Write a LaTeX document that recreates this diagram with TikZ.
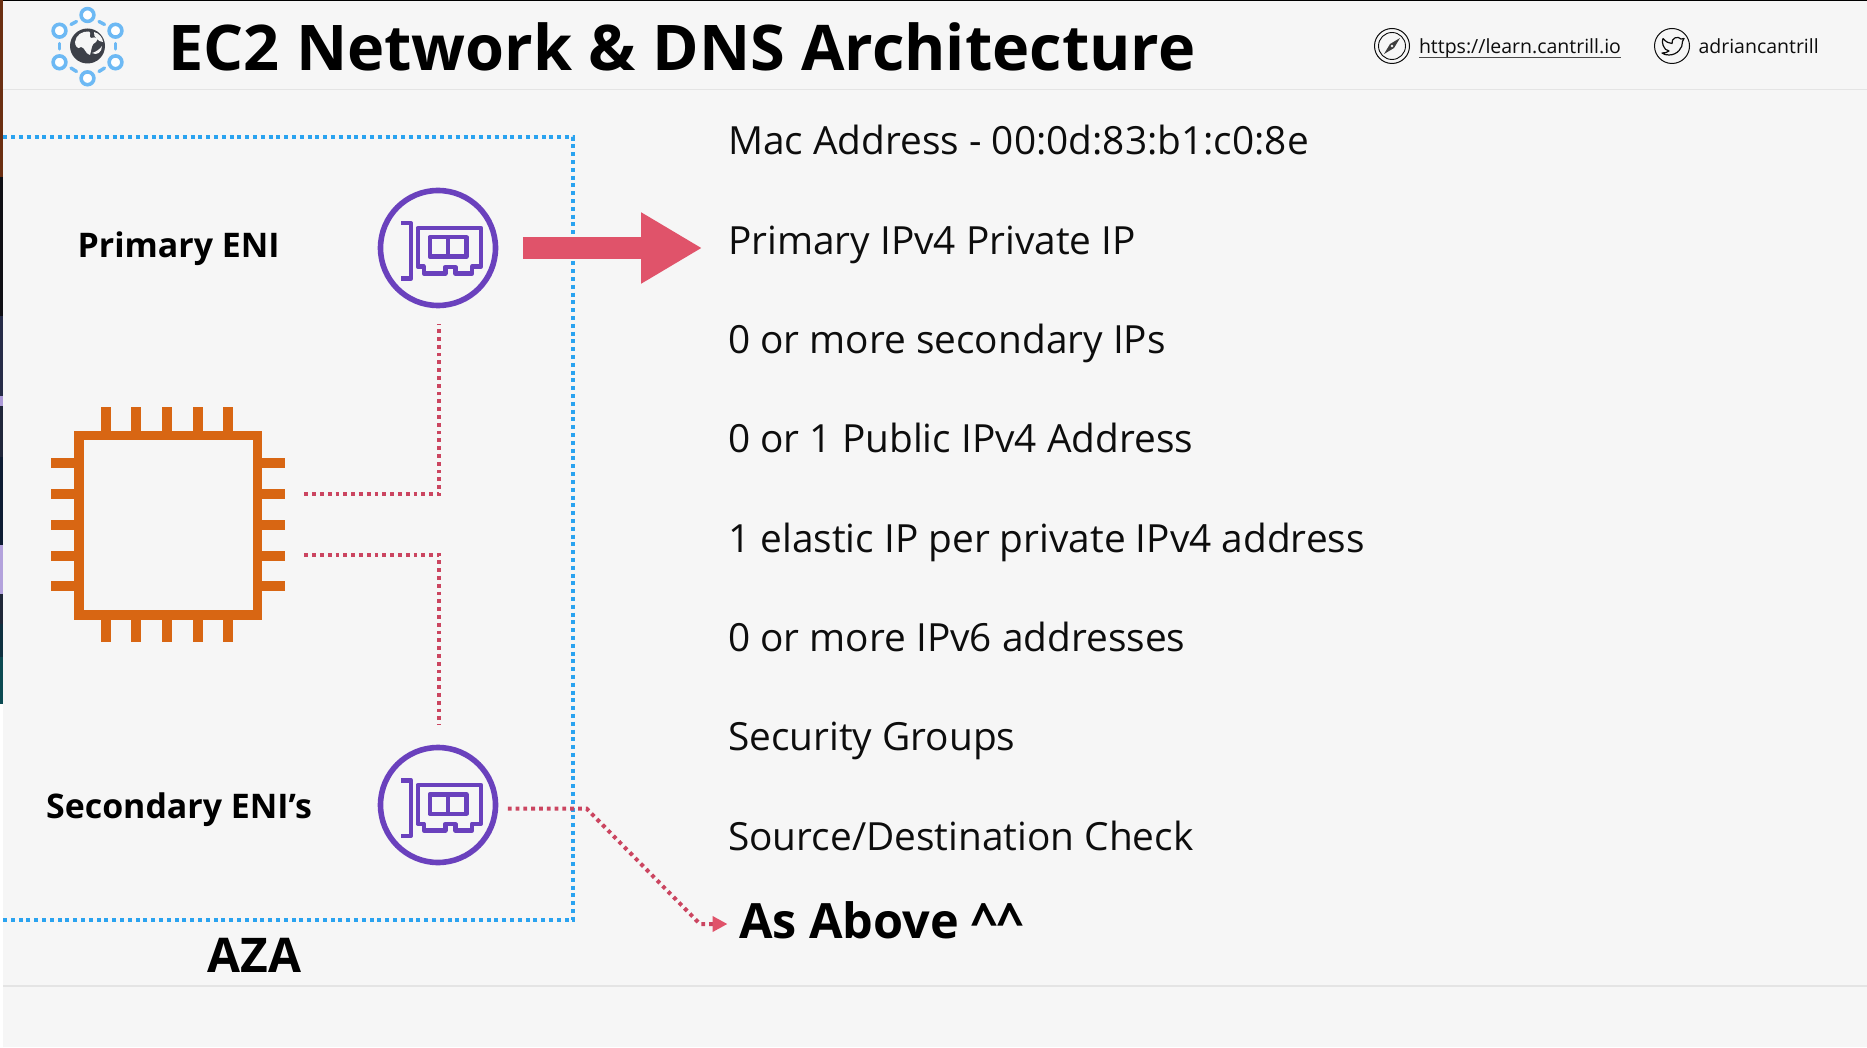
\documentclass[tikz,border=0pt]{standalone}
\usepackage{fontspec}
\setmainfont{Open Sans}
\usetikzlibrary{arrows.meta}
\definecolor{bgc}{HTML}{F6F6F6}
\definecolor{azablue}{HTML}{2AA3F0}
\definecolor{redlink}{HTML}{CB4560}
\definecolor{redarrow}{HTML}{E0536A}
\definecolor{nicpurple}{HTML}{6A41BD}
\definecolor{chiporange}{HTML}{D86613}
\definecolor{logoblue}{HTML}{6DB9F4}
\definecolor{globedark}{HTML}{3D4048}
\definecolor{rulegray}{HTML}{E4E4E4}
\definecolor{inkc}{HTML}{0D0D0D}
\definecolor{sa}{HTML}{6B2F12}
\definecolor{sb}{HTML}{0F0F14}
\definecolor{sc}{HTML}{262C48}
\definecolor{sd}{HTML}{AC9AD8}
\definecolor{se}{HTML}{20263A}
\definecolor{sf}{HTML}{0E1C33}
\definecolor{sg}{HTML}{B3A2DC}
\definecolor{sh}{HTML}{1F2738}
\definecolor{si}{HTML}{0E3040}
\definecolor{sj}{HTML}{0C4A52}
\newcommand{\fsz}[1]{\fontsize{#1}{#1}\selectfont}
\tikzset{
  x=1pt,y=-1pt,
  lbl/.style={inner sep=0pt,outer sep=0pt,text=inkc},
  rowtext/.style={lbl,anchor=base west,font=\fsz{38.8}},
  boldlabel/.style={lbl,anchor=base,text=black,font=\fsz{33.9}\bfseries},
  weblabel/.style={lbl,anchor=base west,font=\fsz{19.5}},
  nicnode/.style={circle,draw=nicpurple,line width=5.6pt,minimum size=115pt,inner sep=0pt},
  chipnode/.style={rectangle,draw=chiporange,line width=9.7pt,minimum width=178.7pt,minimum height=179.2pt,inner sep=0pt},
  pin/.style={draw=chiporange,line width=9.7pt},
  azabox/.style={draw=azablue,line width=3.8pt,dash pattern=on 4pt off 3.8pt},
  linkdot/.style={draw=redlink,line width=4pt,dash pattern=on 3.8pt off 4pt},
  nicline/.style={draw=nicpurple,line width=4.4pt,line join=round},
  logoring/.style={draw=logoblue,line width=3.6pt,fill=white},
  logodash/.style={draw=logoblue,line width=3.4pt,line cap=round},
  nicicon/.pic={
    \draw[nicline] (-37,-24.7)--(-27,-24.7)--(-27,30.7)--(-37,30.7);
    \draw[nicline] (-20.3,-20)--(43,-20)--(43,18.7)--(34,18.7)--(34,25.5)--(17.3,25.5)--(17.3,19)--(7.3,19)--(7.3,25.5)--(-14.3,25.5)--(-14.3,18.7)--(-20.3,18.7)--cycle;
    \draw[nicline] (-8.3,-10.7) rectangle (28.3,8.7);
    \draw[nicline] (9.7,-10.7)--(9.7,8.7);
  }
}
\begin{document}
\begin{tikzpicture}
\useasboundingbox (0,0) rectangle (1867,1048);
\fill[white] (0,0) rectangle (1867,1048);
\fill[bgc] (3.3,0) rectangle (1867,1047);
% top edge and left strip
\fill[black] (0,0) rectangle (1867,1.2);
\fill[sa] (0,0) rectangle (3.3,177);
\fill[sb] (0,177) rectangle (3.3,316);
\fill[sc] (0,316) rectangle (3.3,396);
\fill[sd] (0,396) rectangle (3.3,406);
\fill[se] (0,406) rectangle (3.3,457);
\fill[sf] (0,457) rectangle (3.3,545);
\fill[sg] (0,545) rectangle (3.3,594);
\fill[sh] (0,594) rectangle (3.3,624);
\fill[si] (0,624) rectangle (3.3,657);
\fill[sj] (0,657) rectangle (3.3,704);
% rules
\draw[rulegray,line width=1.4pt] (3.3,89.5)--(1867,89.5);
\draw[rulegray,line width=1.4pt] (3.3,986)--(1867,986);
% logo
\foreach \x/\y in {87.5/15,59.5/30.7,115.5/30.7,59.5/62.3,115.5/62.3,87.5/78.3}
  \draw[logoring] (\x,\y) circle (6.4);
\foreach \a/\b/\c/\d in {71/24.5/76.5/21.5,99/21.5/104.5/24.5,59.5/43.5/59.5/49,115.5/43.5/115.5/49,71/68/76.5/71.5,99/71.5/104.5/68}
  \draw[logodash] (\a,\b)--(\c,\d);
\fill[globedark] (87.5,46) circle (17.5);
\fill[bgc] (75,42) .. controls (76,35) and (82,31) .. (89,31.5) .. controls (92,33) and (88,36) .. (91,38) .. controls (96,36) and (99,39) .. (96,42) .. controls (91,44) and (92,49) .. (90,55) .. controls (85,54) and (85,47) .. (81,47) .. controls (78,50) and (75,46) .. (75,42) -- cycle;
\fill[bgc] (94,32) .. controls (99,33) and (103,38) .. (103,42) .. controls (99,42) and (93,37) .. (94,32) -- cycle;
\fill[bgc] (92,53) .. controls (96,52) and (100,49) .. (102,46) .. controls (102,52) and (97,56) .. (92,53) -- cycle;
% title and web links
\node[lbl,anchor=base west,text=black,font=\fsz{63}\bfseries] (title) at (168.3,70.7) {EC2 Network \& DNS Architecture};
\node[circle,draw=inkc,line width=1pt,minimum size=35pt,inner sep=0pt] (compass) at (1392,46) {};
\draw[inkc,line width=.9pt] (compass.center) circle (13.5);
\fill[inkc!80] (1400,38) -- (1394,48) -- (1384,54) -- (1390,44) -- cycle;
\fill[bgc] (1392,46) circle (1.4);
\node[weblabel] (site) at (1419,54) {https://learn.cantrill.io};
\draw[inkc!75,line width=1.2pt] (site.base west)++(0,3.2) -- ([yshift=-3.2pt]site.base east);
\node[circle,draw=inkc,line width=1pt,minimum size=35pt,inner sep=0pt] (twitter) at (1672,46) {};
\draw[inkc,line width=1.2pt,line join=round] (1663,38.5) .. controls (1666,42) and (1669,43.5) .. (1672,43.5) .. controls (1671,38) and (1678,35.5) .. (1681,39) -- (1684,38.5) -- (1682.5,41.5) .. controls (1683,48) and (1677,55) .. (1669,55) .. controls (1666,55) and (1664,54.5) .. (1662,53) .. controls (1665,53) and (1667,52.5) .. (1669,51) .. controls (1666,50) and (1664.5,49) .. (1664,47) .. controls (1662.5,45) and (1662,41) .. (1663,38.5) -- cycle;
\node[weblabel] (handle) at (1698.5,54) {adriancantrill};
% AZ box
\draw[azabox] (3.3,137)--(573,137)--(573,920)--(3.3,920);
\node[lbl,anchor=base,text=black,font=\fsz{47.8}\bfseries] (aza) at (254.3,972) {AZA};
% labels
\node[boldlabel] (primary) at (178.6,257.6) {Primary ENI};
\node[boldlabel] (secondary) at (179,818) {Secondary ENI’s};
% instance
\node[chipnode] (chip) at (168.15,525.1) {};
\foreach \x in {105.7,136.3,167,197.7,228.3}{
  \draw[pin] (\x,407.3)--(\x,435.5);
  \draw[pin] (\x,614.7)--(\x,642.3);
}
\foreach \y in {463.3,494,525,555.7,586.3}{
  \draw[pin] (51,\y)--(78.8,\y);
  \draw[pin] (257.5,\y)--(285.3,\y);
}
% ENIs
\node[nicnode] (nic1) at (438,248) {};
\pic at (nic1.center) {nicicon};
\node[nicnode] (nic2) at (438,805) {};
\pic at (nic2.center) {nicicon};
% text rows
\node[rowtext] (r1) at (728.2,155) {Mac Address - 00:0d:83:b1:c0:8e};
\node[rowtext] (r2) at (728.2,254.3) {Primary IPv4 Private IP};
\node[rowtext] (r3) at (728.2,353.6) {0 or more secondary IPs};
\node[rowtext] (r4) at (728.2,452.9) {0 or 1 Public IPv4 Address};
\node[rowtext] (r5) at (728.2,552.2) {1 elastic IP per private IPv4 address};
\node[rowtext] (r6) at (728.2,651.5) {0 or more IPv6 addresses};
\node[rowtext] (r7) at (728.2,750.8) {Security Groups};
\node[rowtext] (r8) at (728.2,850.1) {Source/Destination Check};
\node[lbl,anchor=base west,text=black,font=\fsz{48.6}\bfseries] (above) at (739,938.5) {As Above \^{}\^{}};
% connectors
\coordinate (k1) at (439.4,494.3);
\coordinate (k2) at (439.4,555);
\draw[linkdot,shorten <=42pt,shorten >=16pt] (chip.east |- k1) -- (k1) -- (k1 |- nic1.south);
\draw[linkdot,shorten <=42pt,shorten >=20pt] (chip.east |- k2) -- (k2) -- (k2 |- nic2.north);
\coordinate (b1) at (586.7,808.7);
\coordinate (b2) at (700,924);
\draw[linkdot,shorten <=9.5pt,shorten >=11.5pt,-{Triangle[length=15pt,width=15pt,color=redarrow]}] (nic2.east |- b1) -- (b1) -- (b2) -- (above.west |- b2);
\draw[redarrow,line width=21.6pt,shorten <=24.5pt,shorten >=26pt,-{Triangle[length=61pt,width=66.7pt]}] (nic1.east) -- (nic1.east -| r2.west);
\end{tikzpicture}
\end{document}
